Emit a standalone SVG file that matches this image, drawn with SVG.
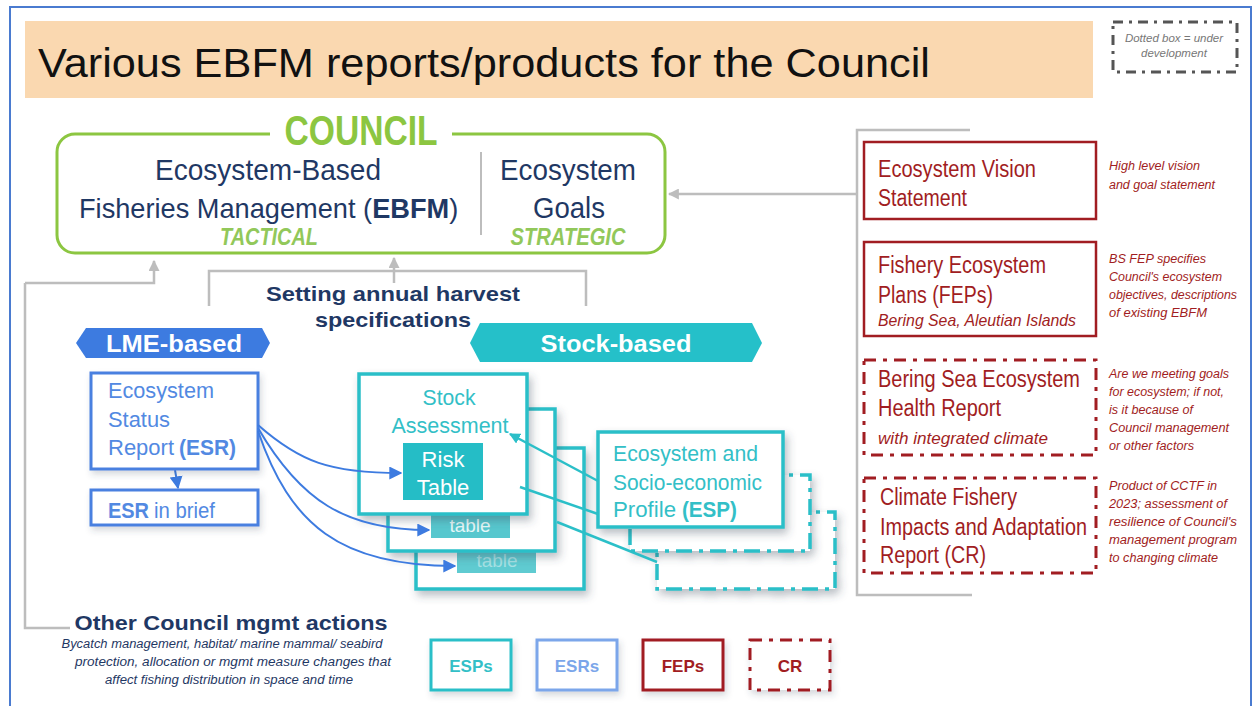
<svg xmlns="http://www.w3.org/2000/svg" width="1255" height="706" viewBox="0 0 1255 706">
<defs>
<style>
text{font-family:"Liberation Sans",Arial,sans-serif}
.gl{stroke:#bdbdbd;stroke-width:2.5;fill:none}
.red{fill:#fff;stroke:#a11d22;stroke-width:2.5}
.redd{fill:#fff;stroke:#a11d22;stroke-width:3;stroke-dasharray:12 7 4 7}
.rt{fill:#a11d22;font-size:23px}
.ri{fill:#a11d22;font-size:16.5px;font-style:italic}
.note{fill:#a11d22;font-size:12.5px;font-style:italic}
.cy{fill:#fff;stroke:#2bbfc8;stroke-width:3.5}
.cyd{fill:#fff;stroke:#2bbfc8;stroke-width:3.5;stroke-dasharray:16 7 4 7}
.ct{fill:#33bfc7;font-size:22px}
.bl{fill:#fff;stroke:#4a80e0;stroke-width:3}
.bt{fill:#5289e2;font-size:22px}
.nv{fill:#1f3864}
.gr{fill:#8cc641}
.lg{font-size:17px;font-weight:bold;text-anchor:middle}
</style>
<marker id="ag" viewBox="0 0 10 10" refX="9" refY="5" markerWidth="11" markerHeight="11" markerUnits="userSpaceOnUse" orient="auto"><path d="M0,0L10,5L0,10z" fill="#bdbdbd"/></marker>
<marker id="ab" viewBox="0 0 10 10" refX="9" refY="5" markerWidth="13" markerHeight="13" markerUnits="userSpaceOnUse" orient="auto"><path d="M0,0L10,5L0,10z" fill="#3d7be0"/></marker>
<marker id="ac" viewBox="0 0 10 10" refX="9" refY="5" markerWidth="11" markerHeight="11" markerUnits="userSpaceOnUse" orient="auto"><path d="M0,0L10,5L0,10z" fill="#2bbfc8"/></marker>
<filter id="sh" x="-20%" y="-20%" width="150%" height="160%"><feDropShadow dx="3" dy="5" stdDeviation="4" flood-color="#3a4a5a" flood-opacity="0.35"/></filter>
<filter id="sh2" x="-20%" y="-20%" width="150%" height="160%"><feDropShadow dx="2" dy="4" stdDeviation="3" flood-color="#3a4a5a" flood-opacity="0.2"/></filter>
</defs>

<rect x="0" y="0" width="1255" height="706" fill="#fff"/>
<rect x="10" y="7" width="1241" height="705" fill="none" stroke="#4a7bd0" stroke-width="2"/>

<g id="title">
<rect x="25" y="21" width="1068" height="77" fill="#fad8b0"/>
<text x="38" y="77" font-size="41" textLength="892" lengthAdjust="spacingAndGlyphs" fill="#111">Various EBFM reports/products for the Council</text>
</g>

<g id="legend-dotted">
<rect x="1113" y="22" width="124" height="50" fill="#fff" stroke="#555" stroke-width="3" stroke-dasharray="10 6 3 6"/>
<text x="1174" y="42" font-size="11.5" font-style="italic" fill="#777" text-anchor="middle">Dotted box = under</text>
<text x="1174" y="57" font-size="11.5" font-style="italic" fill="#777" text-anchor="middle">development</text>
</g>

<g id="connectors">
<path class="gl" d="M970,130 H857 V595 H972"/>
<path class="gl" d="M857,194 H669" marker-end="url(#ag)"/>
<path class="gl" d="M25,283 H154 V261" marker-end="url(#ag)"/>
<path class="gl" d="M25,283 V628 H70"/>
<path class="gl" d="M209,306 V271 H586 V306"/>
<path class="gl" d="M394,283 V258" marker-end="url(#ag)"/>
<path d="M175,470 L178,488" stroke="#3d7be0" stroke-width="2" fill="none" marker-end="url(#ab)"/>
</g>

<g id="council">
<rect x="57" y="134" width="608" height="119" rx="18" fill="#fff" stroke="#8cc641" stroke-width="3"/>
<rect x="270" y="126" width="182" height="16" fill="#fff"/>
<text x="361" y="145" font-size="42" font-weight="bold" class="gr" text-anchor="middle" textLength="153" lengthAdjust="spacingAndGlyphs">COUNCIL</text>
<line x1="481" y1="152" x2="481" y2="235" stroke="#bdbdbd" stroke-width="2"/>
<text x="268" y="180" font-size="30" class="nv" text-anchor="middle" textLength="226" lengthAdjust="spacingAndGlyphs">Ecosystem-Based</text>
<text x="79" y="218" font-size="27.2" class="nv">Fisheries Management (<tspan font-weight="bold">EBFM</tspan>)</text>
<text x="269" y="245" font-size="23" font-style="italic" font-weight="bold" fill="#92c85a" text-anchor="middle" textLength="98" lengthAdjust="spacingAndGlyphs">TACTICAL</text>
<text x="568" y="180" font-size="30" class="nv" text-anchor="middle" textLength="136" lengthAdjust="spacingAndGlyphs">Ecosystem</text>
<text x="569" y="218" font-size="30" class="nv" text-anchor="middle" textLength="72" lengthAdjust="spacingAndGlyphs">Goals</text>
<text x="568" y="245" font-size="23" font-style="italic" font-weight="bold" fill="#92c85a" text-anchor="middle" textLength="115" lengthAdjust="spacingAndGlyphs">STRATEGIC</text>
</g>

<g id="harvest-label">
<text x="393" y="301" font-size="21" font-weight="bold" class="nv" text-anchor="middle" textLength="254" lengthAdjust="spacingAndGlyphs">Setting annual harvest</text>
<text x="393" y="327" font-size="21" font-weight="bold" class="nv" text-anchor="middle" textLength="156" lengthAdjust="spacingAndGlyphs">specifications</text>
</g>

<g id="lme-banner">
<path d="M76,343 L86,328 H262 L270,343 L262,358 H86 Z" fill="#3d7be0"/>
<text x="174" y="352" font-size="23" font-weight="bold" fill="#fff" text-anchor="middle" textLength="136" lengthAdjust="spacingAndGlyphs">LME-based</text>
</g>

<g id="stock-banner">
<path d="M470,343 L480,323 H752 L762,343 L752,362 H480 Z" fill="#25c0c9"/>
<text x="616" y="352" font-size="24" font-weight="bold" fill="#fff" text-anchor="middle" textLength="151" lengthAdjust="spacingAndGlyphs">Stock-based</text>
</g>

<g id="esr">
<rect class="bl" x="91" y="373" width="167" height="96" filter="url(#sh2)"/>
<text class="bt" x="108" y="398" textLength="106" lengthAdjust="spacingAndGlyphs">Ecosystem</text>
<text class="bt" x="108" y="427" textLength="62" lengthAdjust="spacingAndGlyphs">Status</text>
<text class="bt" x="108" y="455" textLength="66" lengthAdjust="spacingAndGlyphs">Report</text>
<text class="bt" x="179" y="455" font-weight="bold" textLength="57" lengthAdjust="spacingAndGlyphs">(ESR)</text>
</g>

<g id="esr-brief">
<rect class="bl" x="91" y="490" width="167" height="35" filter="url(#sh2)"/>
<text class="bt" x="108" y="518" font-weight="bold" textLength="41" lengthAdjust="spacingAndGlyphs">ESR</text>
<text class="bt" x="154" y="518" textLength="61" lengthAdjust="spacingAndGlyphs">in brief</text>
</g>

<g id="stock-assessment-3">
<rect class="cy" x="416" y="448" width="168" height="141" filter="url(#sh)"/>
<rect x="457" y="540" width="79" height="33" fill="#5fcbd1"/>
<text x="497" y="567" font-size="19" fill="#a6e2e5" text-anchor="middle">table</text>
</g>

<g id="stock-assessment-2">
<rect class="cy" x="388" y="409" width="167" height="142" filter="url(#sh)"/>
<rect x="431" y="505" width="79" height="33" fill="#57c7ce"/>
<text x="470" y="532" font-size="19" fill="#e6f7f8" text-anchor="middle">table</text>
</g>

<g id="stock-assessment">
<rect class="cy" x="359" y="374" width="168" height="140" filter="url(#sh)"/>
<text class="ct" x="449" y="405" text-anchor="middle" textLength="53" lengthAdjust="spacingAndGlyphs">Stock</text>
<text class="ct" x="450" y="433" text-anchor="middle" textLength="117" lengthAdjust="spacingAndGlyphs">Assessment</text>
<rect x="403" y="443" width="80" height="57" fill="#25bdc6"/>
<text x="443" y="467" font-size="22" fill="#fff" text-anchor="middle">Risk</text>
<text x="443" y="495" font-size="22" fill="#fff" text-anchor="middle">Table</text>
</g>

<g id="esp-dotted-2">
<rect class="cyd" x="657" y="512" width="178" height="77" filter="url(#sh)"/>
</g>
<g id="esp-dotted-1">
<rect class="cyd" x="630" y="475" width="180" height="76" filter="url(#sh)"/>
</g>

<g id="esp">
<rect class="cy" x="598" y="432" width="185" height="95" filter="url(#sh)"/>
<text class="ct" x="613" y="461" textLength="145" lengthAdjust="spacingAndGlyphs">Ecosystem and</text>
<text class="ct" x="613" y="490" textLength="149" lengthAdjust="spacingAndGlyphs">Socio-economic</text>
<text class="ct" x="613" y="517" textLength="63" lengthAdjust="spacingAndGlyphs">Profile</text>
<text class="ct" x="682" y="517" font-weight="bold" textLength="55" lengthAdjust="spacingAndGlyphs">(ESP)</text>
</g>

<g id="connectors-data">
<path d="M258,425 C300,462 330,473 401,473" stroke="#3d7be0" stroke-width="2" fill="none" marker-end="url(#ab)"/>
<path d="M258,428 C300,500 345,530 429,530" stroke="#3d7be0" stroke-width="2" fill="none" marker-end="url(#ab)"/>
<path d="M258,431 C290,525 340,566 455,566" stroke="#3d7be0" stroke-width="2" fill="none" marker-end="url(#ab)"/>
<path d="M598,481 L510,434" stroke="#2bbfc8" stroke-width="2.5" fill="none" marker-end="url(#ac)"/>
<path d="M520,487 L598,514" stroke="#2bbfc8" stroke-width="2.5" fill="none"/>
<path d="M557,522 L657,562" stroke="#2bbfc8" stroke-width="2.5" fill="none"/>
</g>

<g id="vision">
<rect class="red" x="864" y="142" width="232" height="77"/>
<text class="rt" x="878" y="177" textLength="158" lengthAdjust="spacingAndGlyphs">Ecosystem Vision</text>
<text class="rt" x="878" y="206" textLength="89" lengthAdjust="spacingAndGlyphs">Statement</text>
<text class="note" x="1109" y="170" textLength="91" lengthAdjust="spacingAndGlyphs">High level vision</text>
<text class="note" x="1109" y="189" textLength="106" lengthAdjust="spacingAndGlyphs">and goal statement</text>
</g>

<g id="fep">
<rect class="red" x="864" y="242" width="232" height="94"/>
<text class="rt" x="878" y="273" textLength="168" lengthAdjust="spacingAndGlyphs">Fishery Ecosystem</text>
<text class="rt" x="878" y="303" textLength="115" lengthAdjust="spacingAndGlyphs">Plans (FEPs)</text>
<text class="ri" x="878" y="326" textLength="198" lengthAdjust="spacingAndGlyphs">Bering Sea, Aleutian Islands</text>
<text class="note" x="1109" y="263" textLength="97" lengthAdjust="spacingAndGlyphs">BS FEP specifies</text>
<text class="note" x="1109" y="281" textLength="113" lengthAdjust="spacingAndGlyphs">Council's ecosystem</text>
<text class="note" x="1109" y="299" textLength="128" lengthAdjust="spacingAndGlyphs">objectives, descriptions</text>
<text class="note" x="1109" y="317" textLength="98" lengthAdjust="spacingAndGlyphs">of existing EBFM</text>
</g>

<g id="health">
<rect class="redd" x="864" y="360" width="232" height="95"/>
<text class="rt" x="878" y="387" textLength="202" lengthAdjust="spacingAndGlyphs">Bering Sea Ecosystem</text>
<text class="rt" x="878" y="416" textLength="123" lengthAdjust="spacingAndGlyphs">Health Report</text>
<text class="ri" x="878" y="444" textLength="170" lengthAdjust="spacingAndGlyphs">with integrated climate</text>
<text class="note" x="1109" y="378" textLength="120" lengthAdjust="spacingAndGlyphs">Are we meeting goals</text>
<text class="note" x="1109" y="396" textLength="115" lengthAdjust="spacingAndGlyphs">for ecosystem; if not,</text>
<text class="note" x="1109" y="414" textLength="84" lengthAdjust="spacingAndGlyphs">is it because of</text>
<text class="note" x="1109" y="432" textLength="120" lengthAdjust="spacingAndGlyphs">Council management</text>
<text class="note" x="1109" y="450" textLength="85" lengthAdjust="spacingAndGlyphs">or other factors</text>
</g>

<g id="cr">
<rect class="redd" x="864" y="478" width="232" height="95"/>
<text class="rt" x="880" y="505" textLength="137" lengthAdjust="spacingAndGlyphs">Climate Fishery</text>
<text class="rt" x="880" y="535" textLength="207" lengthAdjust="spacingAndGlyphs">Impacts and Adaptation</text>
<text class="rt" x="880" y="563" textLength="106" lengthAdjust="spacingAndGlyphs">Report (CR)</text>
<text class="note" x="1109" y="490" textLength="108" lengthAdjust="spacingAndGlyphs">Product of CCTF in</text>
<text class="note" x="1109" y="508" textLength="118" lengthAdjust="spacingAndGlyphs">2023; assessment of</text>
<text class="note" x="1109" y="526" textLength="128" lengthAdjust="spacingAndGlyphs">resilience of Council's</text>
<text class="note" x="1109" y="544" textLength="128" lengthAdjust="spacingAndGlyphs">management program</text>
<text class="note" x="1109" y="562" textLength="109" lengthAdjust="spacingAndGlyphs">to changing climate</text>
</g>

<g id="other-actions">
<text x="231" y="630" font-size="21" font-weight="bold" class="nv" text-anchor="middle" textLength="313" lengthAdjust="spacingAndGlyphs">Other Council mgmt actions</text>
<text x="222" y="648" font-size="12.5" font-style="italic" class="nv" text-anchor="middle" textLength="321" lengthAdjust="spacingAndGlyphs">Bycatch management, habitat/ marine mammal/ seabird</text>
<text x="233" y="666" font-size="12.5" font-style="italic" class="nv" text-anchor="middle" textLength="316" lengthAdjust="spacingAndGlyphs">protection, allocation or mgmt measure changes that</text>
<text x="229" y="684" font-size="12.5" font-style="italic" class="nv" text-anchor="middle" textLength="248" lengthAdjust="spacingAndGlyphs">affect fishing distribution in space and time</text>
</g>

<g id="legend-esps">
<rect x="431" y="640" width="80" height="50" fill="#fff" stroke="#2bbfc8" stroke-width="3" filter="url(#sh2)"/>
<text class="lg" x="471" y="672" fill="#33bfc7">ESPs</text>
</g>
<g id="legend-esrs">
<rect x="537" y="640" width="80" height="50" fill="#fff" stroke="#7ba6ea" stroke-width="3" filter="url(#sh2)"/>
<text class="lg" x="577" y="672" fill="#7ba6ea">ESRs</text>
</g>
<g id="legend-feps">
<rect x="643" y="640" width="80" height="50" fill="#fff" stroke="#a11d22" stroke-width="3" filter="url(#sh2)"/>
<text class="lg" x="683" y="672" fill="#a11d22">FEPs</text>
</g>
<g id="legend-cr">
<rect x="750" y="640" width="80" height="50" fill="#fff" stroke="#a11d22" stroke-width="3" stroke-dasharray="12 7 4 7" filter="url(#sh2)"/>
<text class="lg" x="790" y="672" fill="#a11d22">CR</text>
</g>
</svg>
